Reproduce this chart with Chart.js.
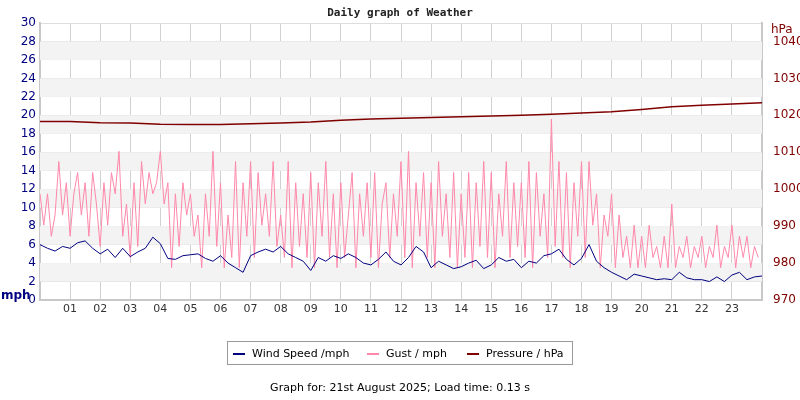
<!DOCTYPE html>
<html>
<head>
<meta charset="utf-8">
<script src="https://cdn.jsdelivr.net/npm/chart.js@4"></script>
<style>
  body { margin: 0; background: #fff; font-family: "DejaVu Sans", sans-serif; }
  #wrap { position: relative; width: 800px; height: 400px; }
  canvas { position: absolute; left: 0; top: 0; }
  .txt { position: absolute; white-space: nowrap; }
  #title { left: 0; width: 800px; top: 6px; text-align: center; font: bold 11px "DejaVu Sans Mono", monospace; color: #222; }
  #mph { left: 1px; top: 288px; font: bold 12px "DejaVu Sans", sans-serif; color: #000080; }
  #hpa { left: 771px; top: 22px; font: 12px "DejaVu Sans", sans-serif; color: #800000; }
  #legend { left: 227px; top: 341px; width: 346px; height: 24px; border: 1px solid #999; font-size: 11px; color: #000; box-sizing: border-box; }
  .item { position: absolute; top: 5px; }
  .sw { display: inline-block; width: 12px; height: 2px; vertical-align: middle; margin-right: 7px; }
  #footer { left: 0; width: 800px; top: 381px; text-align: center; font-size: 11px; color: #000; }
</style>
</head>
<body>
<div id="wrap">
  <canvas id="grafico" width="800" height="400"></canvas>
  <div class="txt" id="title">Daily graph of Weather</div>
  <div class="txt" id="mph">mph</div>
  <div class="txt" id="hpa">hPa</div>
  <div class="txt" id="legend">
    <span class="item" style="left:5px"><span class="sw" style="background:#000080"></span>Wind Speed /mph</span>
    <span class="item" style="left:139px"><span class="sw" style="background:#ff88aa"></span>Gust / mph</span>
    <span class="item" style="left:239px"><span class="sw" style="background:#800000"></span>Pressure / hPa</span>
  </div>
  <div class="txt" id="footer">Graph for: 21st August 2025; Load time: 0.13 s</div>
</div>
<script>
// wind speed, 4 readings per hour
const windSpeed = [
  6.0, 5.6, 5.3, 5.8,  5.6, 6.2, 6.4, 5.6,  5.0, 5.5, 4.6, 5.6,  4.7, 5.2, 5.6, 6.8,
  6.1, 4.5, 4.4, 4.8,  4.9, 5.0, 4.5, 4.2,  4.8, 4.0, 3.5, 3.0,  4.8, 5.2, 5.5, 5.2,
  5.8, 5.0, 4.6, 4.2,  3.2, 4.6, 4.2, 4.8,  4.5, 5.0, 4.6, 4.0,  3.8, 4.4, 5.2, 4.2,
  3.8, 4.6, 5.8, 5.2,  3.5, 4.2, 3.8, 3.4,  3.6, 4.0, 4.3, 3.4,  3.8, 4.6, 4.2, 4.4,
  3.5, 4.2, 4.0, 4.8,  5.0, 5.5, 4.4, 3.8,  4.5, 6.0, 4.2, 3.5,  3.0, 2.6, 2.2, 2.8,
  2.6, 2.4, 2.2, 2.3,  2.2, 3.0, 2.4, 2.2,  2.2, 2.0, 2.5, 2.0,  2.7, 3.0, 2.2, 2.5, 2.6
];
// gust, 8 readings per hour
const gust = [
  11.5, 8.1, 11.5, 6.9, 9.2, 15, 9.2, 12.7,
  6.9, 11.5, 13.8, 9.2, 12.7, 6.9, 13.8, 10.4,
  5.8, 12.7, 8.1, 13.8, 11.5, 16.1, 6.9, 10.4,
  4.6, 12.7, 5.8, 15, 10.4, 13.8, 11.5, 12.7,
  16.1, 10.4, 12.7, 3.5, 11.5, 5.8, 12.7, 9.2,
  11.5, 6.9, 9.2, 3.5, 11.5, 6.9, 16.1, 5.8,
  12.7, 3.5, 9.2, 4.6, 15, 3.5, 12.7, 6.9,
  15, 4.6, 13.8, 8.1, 11.5, 6.9, 15, 5.8,
  9.2, 4.6, 15, 3.5, 12.7, 5.8, 11.5, 4.6,
  13.8, 3.5, 12.7, 6.9, 15, 4.6, 11.5, 3.5,
  12.7, 4.6, 9.2, 13.8, 3.5, 11.5, 6.9, 12.7,
  4.6, 13.8, 3.5, 10.4, 12.7, 4.6, 11.5, 6.9,
  15, 4.6, 16.1, 3.5, 12.7, 6.9, 13.8, 4.6,
  12.7, 3.5, 15, 6.9, 11.5, 4.6, 13.8, 3.5,
  11.5, 4.6, 13.8, 3.5, 12.7, 5.8, 15, 4.6,
  13.8, 3.5, 11.5, 6.9, 15, 4.6, 12.7, 5.8,
  12.7, 4.6, 15, 3.5, 13.8, 6.9, 11.5, 4.6,
  19.6, 5.8, 15, 4.6, 13.8, 3.5, 12.7, 6.9,
  15, 4.6, 15, 8.1, 11.5, 3.5, 9.2, 6.9,
  11.5, 3.5, 9.2, 4.6, 6.9, 3.5, 8.1, 3.5,
  6.9, 3.5, 8.1, 4.6, 5.8, 3.5, 6.9, 3.5,
  10.4, 3.5, 5.8, 4.6, 6.9, 3.5, 5.8, 4.6,
  6.9, 3.5, 5.8, 4.6, 8.1, 3.5, 5.8, 4.6,
  8.1, 3.5, 6.9, 4.6, 6.9, 3.5, 5.8, 4.6
];
// pressure, hourly
const pressure = [
  1018.3, 1018.3, 1018.0, 1017.9, 1017.6, 1017.5, 1017.5, 1017.7, 1017.9, 1018.2,
  1018.7, 1019.0, 1019.2, 1019.4, 1019.6, 1019.8, 1020.0, 1020.3, 1020.6, 1021.0,
  1021.6, 1022.3, 1022.7, 1023.1, 1023.4
];
const hourLabels = ['01','02','03','04','05','06','07','08','09','10','11','12',
  '13','14','15','16','17','18','19','20','21','22','23'];
const pressureTicks = [970, 980, 990, 1000, 1010, 1020, 1030, 1040];

const toPoints = (arr, perHour) => arr.map((v, i) => ({ x: i / perHour, y: v }));

const bands = {
  id: 'bands',
  beforeDatasetsDraw(chart) {
    const { ctx, chartArea, scales } = chart;
    ctx.save();
    ctx.fillStyle = '#f3f3f3';
    for (let lo = 2; lo < 30; lo += 4) {
      const yTop = scales.y.getPixelForValue(lo + 2);
      const yBot = scales.y.getPixelForValue(lo);
      ctx.fillRect(chartArea.left, yTop, chartArea.right - chartArea.left, yBot - yTop);
    }
    ctx.restore();
  }
};

new Chart(document.getElementById('grafico'), {
  type: 'line',
  data: {
    datasets: [
      { label: 'Wind Speed /mph', data: toPoints(windSpeed, 4), borderColor: '#000080', borderWidth: 1, pointRadius: 0, yAxisID: 'y', order: 1 },
      { label: 'Gust / mph', data: toPoints(gust, 8), borderColor: '#ff88aa', borderWidth: 1, pointRadius: 0, yAxisID: 'y', order: 2 },
      { label: 'Pressure / hPa', data: toPoints(pressure, 1), borderColor: '#800000', borderWidth: 1.5, pointRadius: 0, yAxisID: 'y1', order: 0 }
    ]
  },
  plugins: [bands],
  options: {
    responsive: false,
    animation: false,
    layout: { padding: { top: 23, bottom: 70, left: 0, right: 0 } },
    plugins: { legend: { display: false }, tooltip: { enabled: false } },
    scales: {
      x: {
        type: 'linear', min: 0, max: 24,
        afterFit: s => { s.height = 30; },
        afterBuildTicks: s => { s.ticks = Array.from({ length: 25 }, (_, i) => ({ value: i })); },
        ticks: { color: '#333', font: { family: 'DejaVu Sans', size: 11 }, maxRotation: 0, autoSkip: false,
          callback: v => (v >= 1 && v <= 23) ? hourLabels[v - 1] : '' },
        grid: { color: '#d0d0d0', drawTicks: false },
        border: { color: '#c8c8c8', width: 2 }
      },
      y: {
        position: 'left', min: 0, max: 30,
        afterFit: s => { s.width = 40; },
        ticks: { stepSize: 2, color: '#000080', font: { family: 'DejaVu Sans', size: 12 }, padding: 4 },
        grid: { color: '#dddddd', drawTicks: false },
        border: { color: '#c8c8c8', width: 2 }
      },
      y1: {
        position: 'right', min: 970, max: 1045,
        afterFit: s => { s.width = 38; },
        afterBuildTicks: s => { s.ticks = pressureTicks.map(v => ({ value: v })); },
        ticks: { color: '#800000', font: { family: 'DejaVu Sans', size: 12 }, padding: 3, callback: v => String(v) },
        grid: { display: false },
        border: { color: '#c8c8c8', width: 2 }
      }
    }
  }
});
</script>
</body>
</html>
